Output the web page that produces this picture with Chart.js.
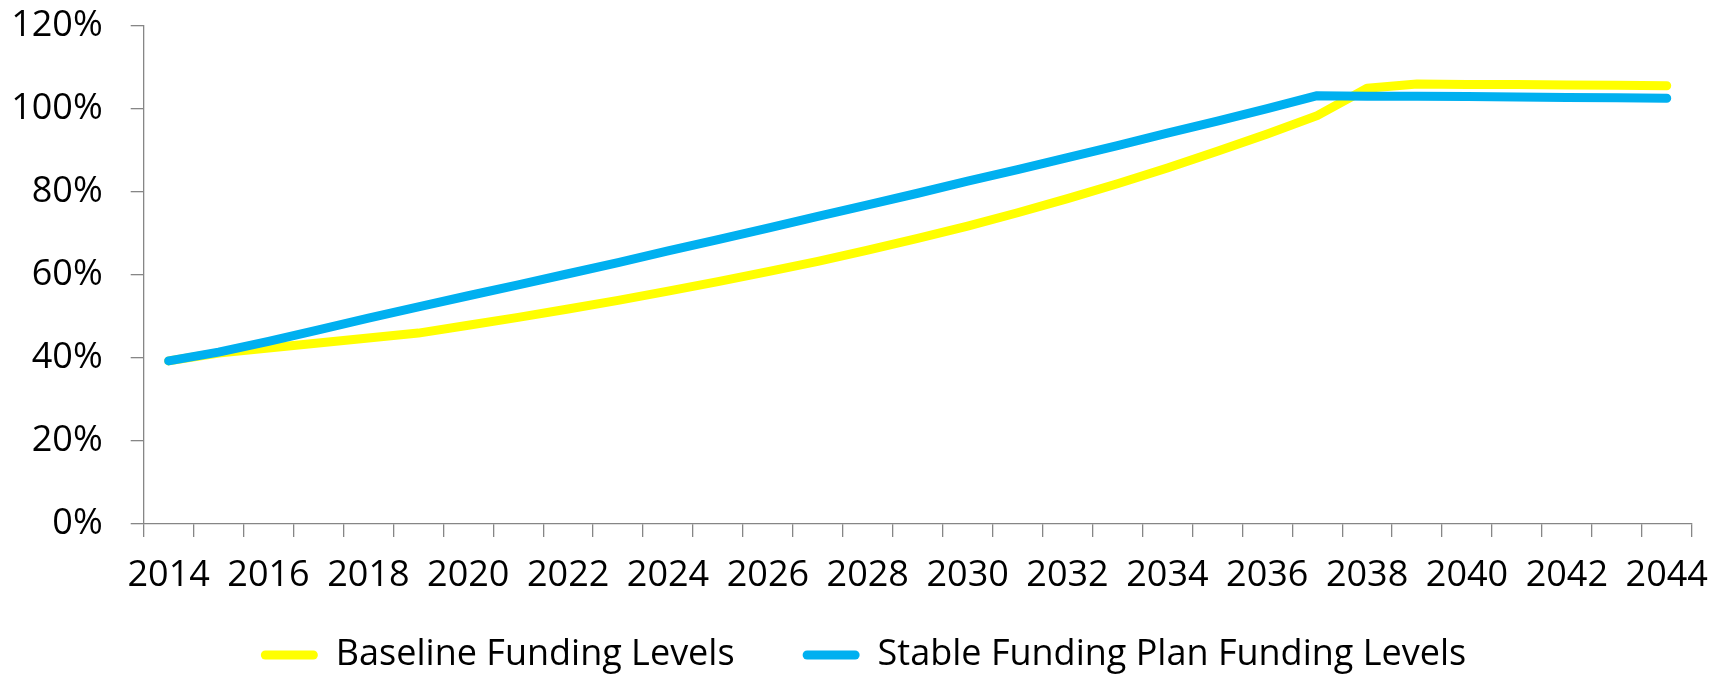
<!DOCTYPE html>
<html>
<head>
<meta charset="utf-8">
<title>Funding Levels</title>
<script src="https://cdn.jsdelivr.net/npm/chart.js@4"></script>
<style>
    html, body { margin: 0; padding: 0; background: #fff; overflow: hidden; }
    #wrap { width: 1727px; height: 675px; }
</style>
</head>
<body>
<div id="wrap"><canvas id="fundingChart"></canvas></div>
<script>
// ── funding levels ──────────────────────────────────────────────────────
// Baseline vs. stable funding plan, percent funded per year.

const years = [
    '2014', '2015', '2016', '2017', '2018', '2019', '2020', '2021',
    '2022', '2023', '2024', '2025', '2026', '2027', '2028', '2029',
    '2030', '2031', '2032', '2033', '2034', '2035', '2036', '2037',
    '2038', '2039', '2040', '2041', '2042', '2043', '2044'
];

const baselineLevels = [
    39.3, 41.2, 42.4, 43.6, 44.8, 46.0, 47.9, 49.8,
    51.8, 53.9, 56.1, 58.4, 60.8, 63.3, 66.0, 68.8,
    71.8, 75.0, 78.4, 82.0, 85.8, 89.8, 94.0, 98.4,
    105.0, 106.0, 105.9, 105.9, 105.8, 105.7, 105.6
];

const stablePlanLevels = [
    39.3, 41.4, 44.0, 46.8, 49.6, 52.3, 55.0, 57.6,
    60.3, 63.0, 65.8, 68.5, 71.3, 74.1, 76.9, 79.7,
    82.6, 85.4, 88.3, 91.2, 94.2, 97.1, 100.1, 103.2,
    103.1, 103.1, 103.0, 102.9, 102.8, 102.7, 102.6
];

const yTicks = [0, 20, 40, 60, 80, 100, 120];

const AXIS_GREY = '#868686';
const FONT = { family: '"Open Sans", "Noto Sans", sans-serif', size: 36 };

function lineDataset(label, values, color, order) {
    return {
        label: label,
        data: values,
        borderColor: color,
        backgroundColor: color,
        borderWidth: 9,
        borderCapStyle: 'round',
        borderJoinStyle: 'round',
        pointRadius: 0,
        pointHoverRadius: 0,
        tension: 0,
        order: order
    };
}

function createChart() {

    const ctx = document.getElementById('fundingChart');

    return new Chart(ctx, {
        type: 'line',
        data: {
            labels: years,
            datasets: [
                lineDataset('Baseline Funding Levels', baselineLevels, '#FFFF00', 1),
                // lower order paints on top, so the blue line covers the yellow one
                lineDataset('Stable Funding Plan Funding Levels', stablePlanLevels, '#00B0F0', 0)
            ]
        },
        options: {
            responsive: true,
            maintainAspectRatio: false,
            devicePixelRatio: 1,
            animation: false,
            events: [],
            layout: {
                padding: { top: 26, right: 0, bottom: 0, left: 0 }
            },
            scales: {
                x: {
                    offset: true,
                    grid: {
                        offset: true,
                        drawOnChartArea: false,
                        drawTicks: true,
                        tickLength: 13,
                        color: AXIS_GREY,
                        lineWidth: 1.3
                    },
                    border: { color: AXIS_GREY, width: 1.3 },
                    ticks: {
                        autoSkip: false,
                        maxRotation: 0,
                        padding: 17,
                        color: '#000',
                        font: FONT,
                        // every year gets a tick mark, every second year a label
                        callback: (value, i) => (i % 2 === 0 ? years[i] : '')
                    },
                    afterFit: scale => { scale.height = 73; }
                },
                y: {
                    min: 0,
                    max: 120,
                    grid: {
                        drawOnChartArea: false,
                        drawTicks: true,
                        tickLength: 13,
                        color: AXIS_GREY,
                        lineWidth: 1.3
                    },
                    border: { color: AXIS_GREY, width: 1.3 },
                    afterBuildTicks: scale => {
                        scale.ticks = yTicks.map(v => ({ value: v }));
                    },
                    ticks: {
                        padding: 28,
                        color: '#000',
                        font: FONT,
                        callback: value => value + '%'
                    },
                    afterFit: scale => {
                        scale.width = 143.7;
                        // the tick padding would otherwise push the top of the plot down
                        scale.paddingTop = 0;
                        scale.paddingBottom = 0;
                    }
                },
                // empty strip on the right so the plot stops short of the edge
                // while the legend still centres on the full width
                rightGap: {
                    type: 'linear',
                    position: 'right',
                    grid: { display: false },
                    border: { display: false },
                    ticks: { display: false },
                    afterFit: scale => { scale.width = 35.3; }
                }
            },
            plugins: {
                tooltip: { enabled: false },
                legend: {
                    position: 'bottom',
                    maxHeight: 78,
                    labels: {
                        boxWidth: 57,
                        boxHeight: 9,
                        padding: 40,
                        color: '#000',
                        font: FONT,
                        useBorderRadius: true,
                        borderRadius: 4.5,
                        sort: (a, b) => a.datasetIndex - b.datasetIndex,
                        generateLabels: chart => {
                            const items = Chart.defaults.plugins.legend.labels.generateLabels(chart);
                            items.forEach(item => {
                                item.lineWidth = 0;
                                // wider gap after the baseline entry than the row padding gives
                                if (item.datasetIndex === 0) item.text += '   ';
                            });
                            return items;
                        }
                    }
                }
            }
        }
    });
}

createChart();
</script>
</body>
</html>
